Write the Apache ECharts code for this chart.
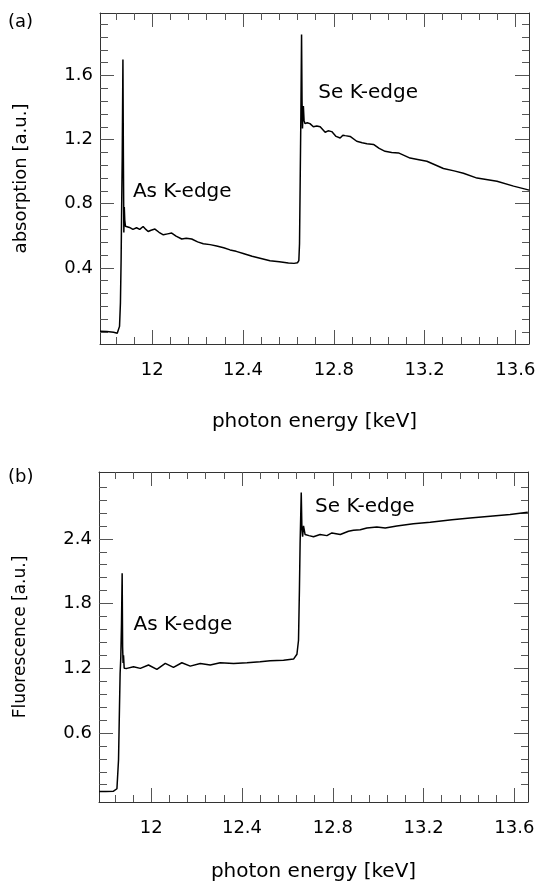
<!DOCTYPE html>
<html>
<head>
<meta charset="utf-8">
<script src="https://cdn.jsdelivr.net/npm/echarts@6/dist/echarts.min.js"></script>
<style>
html,body{margin:0;padding:0;background:#fff;}
#chart{width:539px;height:886px;}
</style>
</head>
<body>
<div id="chart"></div>
<script>
// ---- data ----
const absEnergy = [11.770,11.800,11.830,11.846,11.852,11.856,11.860,11.863,11.865,11.868,11.871,11.873,11.875,11.877,11.879,11.882,11.887,11.900,11.915,11.931,11.945,11.960,11.972,11.982,11.995,12.012,12.030,12.049,12.068,12.086,12.105,12.130,12.150,12.174,12.200,12.225,12.255,12.284,12.315,12.343,12.370,12.401,12.440,12.475,12.519,12.560,12.600,12.625,12.640,12.646,12.649,12.652,12.655,12.658,12.660,12.662,12.664,12.666,12.669,12.673,12.683,12.695,12.710,12.725,12.740,12.762,12.775,12.791,12.810,12.828,12.840,12.850,12.872,12.901,12.925,12.946,12.975,13.000,13.026,13.055,13.085,13.136,13.175,13.210,13.283,13.330,13.371,13.431,13.519,13.592,13.661];
const absValue = [0.005,0.003,-0.002,-0.008,0.000,0.035,0.18,0.45,0.72,1.10,1.70,1.10,0.62,0.78,0.70,0.66,0.648,0.652,0.640,0.650,0.640,0.658,0.640,0.627,0.635,0.642,0.622,0.606,0.612,0.617,0.598,0.580,0.585,0.580,0.562,0.550,0.545,0.537,0.525,0.512,0.503,0.490,0.472,0.460,0.445,0.438,0.430,0.428,0.432,0.445,0.55,0.95,1.35,1.856,1.45,1.27,1.36,1.41,1.32,1.30,1.305,1.30,1.28,1.285,1.28,1.246,1.255,1.25,1.22,1.21,1.228,1.225,1.22,1.19,1.18,1.175,1.17,1.145,1.127,1.12,1.117,1.085,1.075,1.065,1.02,1.005,0.99,0.96,0.94,0.91,0.885];

const fluEnergy = [11.771,11.800,11.834,11.849,11.856,11.860,11.863,11.866,11.869,11.872,11.874,11.876,11.878,11.881,11.887,11.893,11.922,11.952,11.988,12.025,12.062,12.098,12.135,12.172,12.216,12.260,12.304,12.363,12.422,12.480,12.524,12.583,12.627,12.642,12.649,12.653,12.656,12.661,12.664,12.667,12.671,12.678,12.695,12.715,12.744,12.774,12.796,12.833,12.869,12.891,12.921,12.950,12.994,13.002,13.031,13.082,13.155,13.229,13.325,13.405,13.493,13.581,13.659];
const fluValue = [0.058,0.058,0.060,0.083,0.35,0.81,1.15,1.30,1.60,2.08,1.40,1.25,1.32,1.20,1.205,1.199,1.214,1.199,1.230,1.190,1.245,1.208,1.251,1.220,1.245,1.230,1.251,1.245,1.251,1.260,1.270,1.275,1.285,1.33,1.46,1.93,2.36,2.83,2.485,2.42,2.52,2.44,2.43,2.42,2.44,2.43,2.455,2.44,2.47,2.48,2.485,2.50,2.51,2.495,2.50,2.52,2.54,2.553,2.578,2.594,2.61,2.625,2.646];

const xMajorTicks = [12, 12.4, 12.8, 13.2, 13.6];
const xMinorTicks = [11.84, 11.92, 12.08, 12.16, 12.24, 12.32, 12.48, 12.56, 12.64, 12.72, 12.88, 12.96, 13.04, 13.12, 13.28, 13.36, 13.44, 13.52];
const absMajorTicks = [0.4, 0.8, 1.2, 1.6];
const absMinorTicks = [0, 0.08, 0.16, 0.24, 0.32, 0.48, 0.56, 0.64, 0.72, 0.88, 0.96, 1.04, 1.12, 1.28, 1.36, 1.44, 1.52, 1.68, 1.76, 1.84, 1.92];
const fluMajorTicks = [0.6, 1.2, 1.8, 2.4];
const fluMinorTicks = [0.12, 0.24, 0.36, 0.48, 0.72, 0.84, 0.96, 1.08, 1.32, 1.44, 1.56, 1.68, 1.92, 2.04, 2.16, 2.28, 2.52, 2.64, 2.76, 2.88];

const annotations = [
  { panel: 0, name: 'As K-edge', coord: [11.915, 0.875] },
  { panel: 0, name: 'Se K-edge', coord: [12.732, 1.49] },
  { panel: 1, name: 'As K-edge', coord: [11.922, 1.60] },
  { panel: 1, name: 'Se K-edge', coord: [12.722, 2.70] }
];

// ---- chart ----
const FONT = 'DejaVu Sans';
const AX = '#333';
const TXT = '#000';
const X_MIN = 11.77, X_MAX = 13.66;

function xAxesFor(grid, nameGap) {
  const base = { type: 'value', gridIndex: grid, min: X_MIN, max: X_MAX, splitLine: { show: false } };
  return [
    Object.assign({}, base, {
      position: 'bottom',
      axisLine: { show: true, onZero: false, lineStyle: { color: AX, width: 1 } },
      axisTick: { show: true, inside: true, length: 14, customValues: xMajorTicks, lineStyle: { color: '#555' } },
      axisLabel: { show: true, customValues: xMajorTicks, margin: 17, fontFamily: FONT, fontSize: 18, color: TXT },
      name: 'photon energy [keV]', nameLocation: 'middle', nameGap: nameGap,
      nameTextStyle: { fontFamily: FONT, fontSize: 20, color: TXT }
    }),
    Object.assign({}, base, {
      position: 'bottom',
      axisLine: { show: false, onZero: false },
      axisTick: { show: true, inside: true, length: 7, customValues: xMinorTicks, lineStyle: { color: '#555' } },
      axisLabel: { show: false }
    }),
    Object.assign({}, base, {
      position: 'top',
      axisLine: { show: true, onZero: false, lineStyle: { color: AX, width: 1 } },
      axisTick: { show: true, inside: true, length: 14, customValues: xMajorTicks, lineStyle: { color: '#555' } },
      axisLabel: { show: false }
    }),
    Object.assign({}, base, {
      position: 'top',
      axisLine: { show: false, onZero: false },
      axisTick: { show: true, inside: true, length: 7, customValues: xMinorTicks, lineStyle: { color: '#555' } },
      axisLabel: { show: false }
    })
  ];
}

function yAxesFor(grid, min, max, major, minor, name, nameSize) {
  const base = { type: 'value', gridIndex: grid, min: min, max: max, splitLine: { show: false } };
  return [
    Object.assign({}, base, {
      position: 'left',
      axisLine: { show: true, onZero: false, lineStyle: { color: AX, width: 1 } },
      axisTick: { show: true, inside: true, length: 14, customValues: major, lineStyle: { color: '#555' } },
      axisLabel: { show: true, customValues: major, margin: 7, fontFamily: FONT, fontSize: 18, color: TXT },
      name: name, nameLocation: 'middle', nameGap: 70, nameRotate: 90,
      nameTextStyle: { fontFamily: FONT, fontSize: nameSize, color: TXT }
    }),
    Object.assign({}, base, {
      position: 'left',
      axisLine: { show: false, onZero: false },
      axisTick: { show: true, inside: true, length: 8, customValues: minor, lineStyle: { color: '#555' } },
      axisLabel: { show: false }
    }),
    Object.assign({}, base, {
      position: 'right',
      axisLine: { show: true, onZero: false, lineStyle: { color: AX, width: 1 } },
      axisTick: { show: true, inside: true, length: 14, customValues: major, lineStyle: { color: '#555' } },
      axisLabel: { show: false }
    }),
    Object.assign({}, base, {
      position: 'right',
      axisLine: { show: false, onZero: false },
      axisTick: { show: true, inside: true, length: 7, customValues: minor, lineStyle: { color: '#555' } },
      axisLabel: { show: false }
    })
  ];
}

function pairs(xs, ys) { return xs.map((x, i) => [x, ys[i]]); }

function markFor(panel) {
  return {
    symbol: 'circle', symbolSize: 0, silent: true,
    label: { show: true, position: 'right', distance: 0, formatter: '{b}', fontFamily: FONT, fontSize: 20, color: TXT },
    data: annotations.filter(a => a.panel === panel).map(a => ({ name: a.name, coord: a.coord }))
  };
}

const chart = echarts.init(document.getElementById('chart'), null, { renderer: 'canvas' });
chart.setOption({
  animation: false,
  backgroundColor: '#fff',
  grid: [
    { left: 100, top: 13, width: 429, height: 331 },
    { left: 99, top: 472, width: 429, height: 330 }
  ],
  xAxis: xAxesFor(0, 68).concat(xAxesFor(1, 60)),
  yAxis: yAxesFor(0, -0.075, 1.99, absMajorTicks, absMinorTicks, 'absorption [a.u.]', 18)
    .concat(yAxesFor(1, -0.04, 3.02, fluMajorTicks, fluMinorTicks, 'Fluorescence [a.u.]', 17)),
  graphic: [
    { type: 'text', left: 8, top: 13, style: { text: '(a)', fontFamily: FONT, fontSize: 18, fill: TXT } },
    { type: 'text', left: 8, top: 468, style: { text: '(b)', fontFamily: FONT, fontSize: 18, fill: TXT } }
  ],
  series: [
    {
      type: 'line', xAxisIndex: 0, yAxisIndex: 0, data: pairs(absEnergy, absValue),
      showSymbol: false, smooth: false, lineStyle: { color: '#000', width: 1.5 },
      markPoint: markFor(0)
    },
    {
      type: 'line', xAxisIndex: 4, yAxisIndex: 4, data: pairs(fluEnergy, fluValue),
      showSymbol: false, smooth: false, lineStyle: { color: '#000', width: 1.5 },
      markPoint: markFor(1)
    }
  ]
});
</script>
</body>
</html>
